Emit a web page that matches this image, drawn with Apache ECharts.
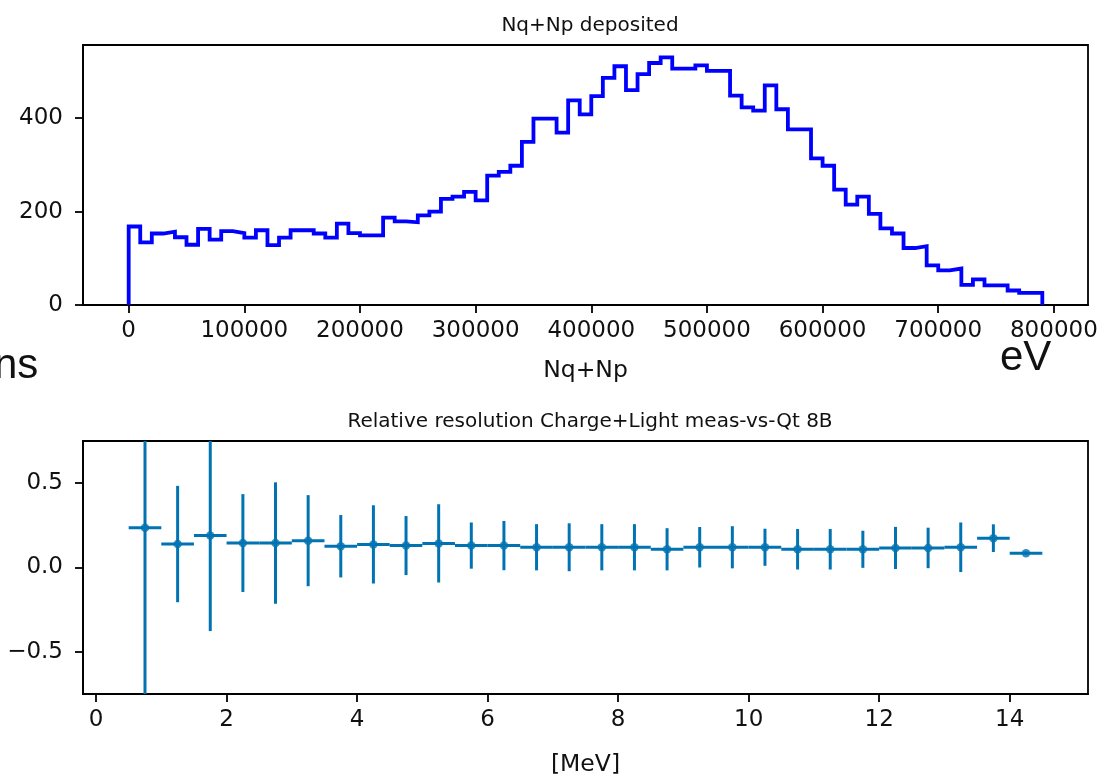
<!DOCTYPE html>
<html>
<head>
<meta charset="utf-8">
<script src="https://cdn.jsdelivr.net/npm/echarts@6/dist/echarts.min.js"></script>
<style>
html,body{margin:0;padding:0;background:#fff;}
#chart{width:1104px;height:778px;}
</style>
</head>
<body>
<div id="chart"></div>
<script>
// ---- Top panel: histogram of Nq+Np deposited ----
const binWidth = 10000;
const histStart = 0;
const histCounts = [
  168,134,153,157,145,129,163,140,158,154,144,160,128,144,160,160,153,144,174,154,149,149,
  187,179,177,192,200,227,232,242,224,277,285,298,349,399,399,369,438,408,447,486,
  511,460,494,518,530,506,506,513,501,501,448,423,416,470,419,376,376,314,298,247,
  215,232,195,164,153,122,126,85,74,78,43,55,42,42,31,26,26
];
const topXTicks = [0,100000,200000,300000,400000,500000,600000,700000,800000];
const topYTicks = [0,200,400];

// ---- Bottom panel: relative resolution vs energy ----
const energyCenters = [0.75,1.25,1.75,2.25,2.75,3.25,3.75,4.25,4.75,5.25,5.75,6.25,6.75,7.25,
  7.75,8.25,8.75,9.25,9.75,10.25,10.75,11.25,11.75,12.25,12.75,13.25,13.75,14.25];
const energyHalfWidth = [0.25,0.25,0.25,0.25,0.25,0.25,0.25,0.25,0.25,0.25,0.25,0.25,0.25,0.25,
  0.25,0.25,0.25,0.25,0.25,0.25,0.25,0.25,0.25,0.25,0.25,0.25,0.25,0.25];
const resValues = [0.236,0.139,0.190,0.145,0.145,0.159,0.126,0.137,0.130,0.143,0.130,0.130,0.120,0.120,
  0.120,0.120,0.108,0.120,0.120,0.120,0.108,0.108,0.108,0.116,0.116,0.120,0.174,0.085];
const resErrors = [1.10,0.345,0.567,0.290,0.360,0.270,0.185,0.232,0.175,0.232,0.137,0.146,0.137,0.142,
  0.137,0.137,0.125,0.120,0.125,0.110,0.120,0.120,0.110,0.125,0.120,0.147,0.082,0.010];
const botXTicks = [0,2,4,6,8,10,12,14];
const botYTicks = [-0.5,0,0.5];

// build step outline from bin edges and counts
const stepPts = [];
stepPts.push([histStart, 0]);
histCounts.forEach((c, i) => {
  const x0 = histStart + i * binWidth, x1 = x0 + binWidth;
  stepPts.push([x0, c]);
  stepPts.push([x1, c]);
});
stepPts.push([histStart + histCounts.length * binWidth, 0]);

const histEnd = histStart + histCounts.length * binWidth;
const topMargin = (histEnd - histStart) * 0.05;
const topYMax = Math.max(...histCounts) * 1.05;

const eMin = energyCenters[0] - energyHalfWidth[0];
const eMax = energyCenters[energyCenters.length-1] + energyHalfWidth[energyHalfWidth.length-1];
const eMargin = (eMax - eMin) * 0.05;
const yLim = 0.75;

const ebData = energyCenters.map((x, i) => [x, resValues[i], energyHalfWidth[i], resErrors[i]]);
const ptData = energyCenters.map((x, i) => [x, resValues[i]]);

const C = '#0173b2';
const FONT = 'DejaVu Sans';
const tickFont = {color:'#111', fontSize:23, fontFamily:FONT};
const axisLineStyle = {show:true, onZero:false, lineStyle:{color:'#000', width:1.8}};
const tickStyle = {show:true, length:8, inside:false, lineStyle:{color:'#000', width:1.8}};

const chart = echarts.init(document.getElementById('chart'), null, {renderer:'canvas'});
chart.setOption({
  animation:false,
  backgroundColor:'#fff',
  title:[
    {text:'Nq+Np deposited', left:585, top:11, textAlign:'center',
     textStyle:{fontSize:20, fontWeight:'normal', color:'#111', fontFamily:FONT}},
    {text:'Relative resolution Charge+Light meas-vs-Qt 8B', left:585, top:407, textAlign:'center',
     textStyle:{fontSize:20, fontWeight:'normal', color:'#111', fontFamily:FONT}}
  ],
  grid:[
    {left:83, top:45, width:1005, height:260, show:true, borderColor:'#000', borderWidth:1.8, backgroundColor:'transparent'},
    {left:83, top:441, width:1005, height:260, show:true, borderColor:'#000', borderWidth:1.8, backgroundColor:'transparent'}
  ],
  xAxis:[
    {type:'value', gridIndex:0, min:histStart - topMargin, max:histEnd + topMargin,
     name:'Nq+Np', nameLocation:'middle', nameGap:54,
     nameTextStyle:{fontSize:23.5, color:'#111', fontFamily:FONT},
     axisLine:axisLineStyle, axisTick:Object.assign({customValues:topXTicks}, tickStyle),
     axisLabel:Object.assign({customValues:topXTicks, margin:15, formatter:v=>String(v)}, tickFont),
     splitLine:{show:false}},
    {type:'value', gridIndex:1, min:eMin - eMargin, max:eMax + eMargin,
     name:'[MeV]', nameLocation:'middle', nameGap:59,
     nameTextStyle:{fontSize:23.5, color:'#111', fontFamily:FONT},
     axisLine:axisLineStyle, axisTick:Object.assign({customValues:botXTicks}, tickStyle),
     axisLabel:Object.assign({customValues:botXTicks, margin:15, formatter:v=>String(v)}, tickFont),
     splitLine:{show:false}}
  ],
  yAxis:[
    {type:'value', gridIndex:0, min:0, max:topYMax,
     axisLine:axisLineStyle, axisTick:Object.assign({customValues:topYTicks}, tickStyle),
     axisLabel:Object.assign({customValues:topYTicks, margin:20, formatter:v=>String(v)}, tickFont),
     splitLine:{show:false}},
    {type:'value', gridIndex:1, min:-yLim, max:yLim,
     axisLine:axisLineStyle, axisTick:Object.assign({customValues:botYTicks}, tickStyle),
     axisLabel:Object.assign({customValues:botYTicks, margin:20,
       formatter:v=>(v<0?'\u2212':'') + Math.abs(v).toFixed(1)}, tickFont),
     splitLine:{show:false}}
  ],
  series:[
    {type:'line', xAxisIndex:0, yAxisIndex:0, data:stepPts, showSymbol:false, symbol:'none',
     lineStyle:{color:'#0000ff', width:3.8, join:'miter'}, clip:true},
    {type:'custom', xAxisIndex:1, yAxisIndex:1, data:ebData, clip:true,
     renderItem:function(params, api){
       const x = api.value(0), y = api.value(1), xe = api.value(2), ye = api.value(3);
       const lo = Math.max(y - ye, -yLim), hi = Math.min(y + ye, yLim);
       const pL = api.coord([x - xe, y]), pR = api.coord([x + xe, y]);
       const pB = api.coord([x, lo]), pT = api.coord([x, hi]);
       const st = {stroke:C, lineWidth:3};
       return {type:'group', children:[
         {type:'line', shape:{x1:pL[0], y1:pL[1], x2:pR[0], y2:pR[1]}, style:st},
         {type:'line', shape:{x1:pB[0], y1:pB[1], x2:pT[0], y2:pT[1]}, style:st}
       ]};
     }},
    {type:'scatter', xAxisIndex:1, yAxisIndex:1, data:ptData, symbol:'circle', symbolSize:8.5,
     itemStyle:{color:C}}
  ],
  graphic:[
    {type:'text', left:-6, top:345, style:{text:'ns', fontSize:42, fill:'#111', fontFamily:'Liberation Sans'}},
    {type:'text', left:1000, top:337, style:{text:'eV', fontSize:42, fill:'#111', fontFamily:'Liberation Sans'}}
  ]
});
</script>
</body>
</html>
